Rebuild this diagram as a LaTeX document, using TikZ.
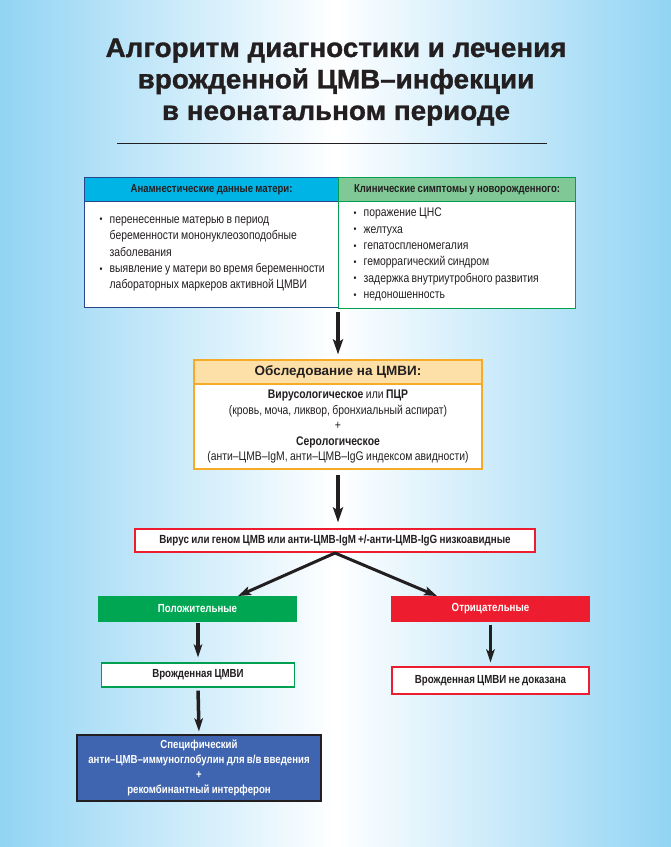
\documentclass[tikz,border=0pt]{standalone}
\usepackage{fontspec}
\setmainfont{Liberation Sans}
\newfontfamily\cond[FakeStretch=0.83, WordSpace=0.85]{Liberation Sans}
\newfontfamily\condb[FakeStretch=0.83, WordSpace=0.85]{Liberation Sans}
\newfontfamily\titlecond[FakeStretch=1.03, FakeBold=1.2]{Liberation Sans}
\usetikzlibrary{arrows.meta}
\definecolor{bgedge}{RGB}{146,212,244}
\definecolor{txt}{RGB}{35,31,32}
\definecolor{cyanhd}{RGB}{0,180,230}
\definecolor{bluebd}{RGB}{40,70,140}
\definecolor{greenhd}{RGB}{128,200,150}
\definecolor{greenbd}{RGB}{0,160,80}
\definecolor{orangehd}{RGB}{253,224,168}
\definecolor{orangebd}{RGB}{245,170,40}
\definecolor{redbd}{RGB}{237,28,46}
\definecolor{greenfill}{RGB}{0,166,81}
\definecolor{bluefill}{RGB}{64,101,176}
\newlength\bind
\setlength\bind{10pt}
\newcommand\blt{\makebox[\bind][l]{\raisebox{0.3pt}{\normalsize\textbullet}}}
\newcommand\hind{\hspace*{\bind}}
\begin{document}
\begin{tikzpicture}[x=1pt,y=-1pt,
  boxnode/.style={draw, line width=1.2pt, fill=white, inner sep=0pt, text=txt},
  hdr/.style={boxnode, font=\condb\bfseries\fontsize{11.5}{13}\selectfont},
  bodytxt/.style={font=\cond\fontsize{12.5}{16.4}\selectfont, align=left, inner sep=0pt, text=txt, anchor=west},
  smallbold/.style={font=\condb\bfseries\fontsize{11.7}{13}\selectfont},
  bigarr/.style={draw=txt, line width=4.5pt, -{Stealth[length=15pt,width=10pt,inset=3pt]}},
  midarr/.style={draw=txt, line width=3.5pt, -{Stealth[length=13pt,width=8.5pt,inset=3pt]}},
  diagarr/.style={draw=txt, line width=3pt, -{Stealth[length=13pt,width=9pt,inset=3pt]}}
]
\useasboundingbox (0,0) rectangle (671,847);
\shade[left color=bgedge, right color=bgedge, middle color=white] (0,0) rectangle (671,847);

\node[font=\titlecond\bfseries\fontsize{27}{31.5}\selectfont, text=txt, align=center] (title) at (336,82)
  {Алгоритм диагностики и лечения\\врожденной ЦМВ–инфекции\\в неонатальном периоде};
\coordinate (r1) at (117,143);
\coordinate (r2) at (547,143);
\draw[txt, line width=0.8pt] (r1) -- (r2);

% top boxes
\node[hdr, fill=cyanhd, draw=bluebd, minimum width=254pt, minimum height=24pt, anchor=north west] (hA) at (84,177) {Анамнестические данные матери:};
\node[boxnode, draw=bluebd, anchor=north west, minimum width=254pt, minimum height=106pt] (bA) at (84,201) {};
\node[bodytxt] (tA) at (99.5,254)
  {\blt перенесенные матерью в период\\
   \hind беременности мононуклеозоподобные\\
   \hind заболевания\\
   \blt выявление у матери во время беременности\\
   \hind лабораторных маркеров активной ЦМВИ};
\node[hdr, fill=greenhd, draw=greenbd, minimum width=237pt, minimum height=24pt, anchor=north west] (hB) at (338,177) {Клинические симптомы у новорожденного:};
\node[boxnode, draw=greenbd, anchor=north west, minimum width=237pt, minimum height=107pt] (bB) at (338,201) {};
\node[bodytxt] (tB) at (353.5,254.5)
  {\blt поражение ЦНС\\
   \blt желтуха\\
   \blt гепатоспленомегалия\\
   \blt геморрагический синдром\\
   \blt задержка внутриутробного развития\\
   \blt недоношенность};

% examination
\node[boxnode, fill=orangehd, draw=orangebd, minimum width=288pt, minimum height=24pt, font=\fontsize{13.5}{16}\selectfont\bfseries] (hO) at (338,372) {Обследование на ЦМВИ:};
\node[boxnode, draw=orangebd, minimum width=288pt, minimum height=85pt, align=center, font=\condb\fontsize{12.5}{15.5}\selectfont] (bO) at (338,426.5)
  {{\bfseries Вирусологическое} или {\bfseries ПЦР}\\
   (кровь, моча, ликвор, бронхиальный аспират)\\
   +\\
   {\bfseries Серологическое}\\
   (анти–ЦМВ–IgM, анти–ЦМВ–IgG индексом авидности)};

\node[boxnode, draw=redbd, minimum width=400pt, minimum height=23pt, font=\condb\bfseries\fontsize{11.8}{13}\selectfont] (res) at (335,540.5)
  {Вирус или геном ЦМВ или анти-ЦМВ-IgM +/-анти-ЦМВ-IgG низкоавидные};

\node[boxnode, draw=greenfill, fill=greenfill, text=white, minimum width=197pt, minimum height=24pt, smallbold] (pos) at (197.5,609) {Положительные};
\node[boxnode, draw=redbd, fill=redbd, text=white, minimum width=197pt, minimum height=24pt, smallbold] (neg) at (490.5,609) {Отрицательные};

\node[boxnode, draw=greenbd, minimum width=193pt, minimum height=24pt, smallbold] (cong) at (198,675) {Врожденная ЦМВИ};
\node[boxnode, draw=redbd, minimum width=197pt, minimum height=27pt, smallbold] (notc) at (490.5,680.5) {Врожденная ЦМВИ не доказана};

\node[boxnode, draw=txt, fill=bluefill, text=white, minimum width=244pt, minimum height=66pt, align=center, font=\condb\bfseries\fontsize{11.6}{15}\selectfont] (treat) at (199,768)
  {Специфический\\анти–ЦМВ–иммуноглобулин для в/в введения\\+\\рекомбинантный интерферон};

% arrows
\coordinate (a1) at (338,312);
\coordinate (apex) at (335,553);
\coordinate (dl) at (238,596);
\coordinate (dr) at (437,596);
\draw[bigarr, shorten >=5pt] (a1) -- (hO.north);
\draw[bigarr, shorten <=5pt, shorten >=6pt] (bO.south) -- (bO.south |- res.north);
\draw[diagarr, line cap=round] (apex) -- (dl);
\draw[diagarr, line cap=round] (apex) -- (dr);
\draw[midarr, shorten <=1pt, shorten >=5pt] (pos.south -| cong.north) -- (cong.north);
\draw[midarr, shorten <=3pt, shorten >=4pt] (neg.south) -- (notc.north);
\draw[midarr, shorten <=3pt, shorten >=3pt] (cong.south) -- (treat.north);
\end{tikzpicture}
\end{document}
